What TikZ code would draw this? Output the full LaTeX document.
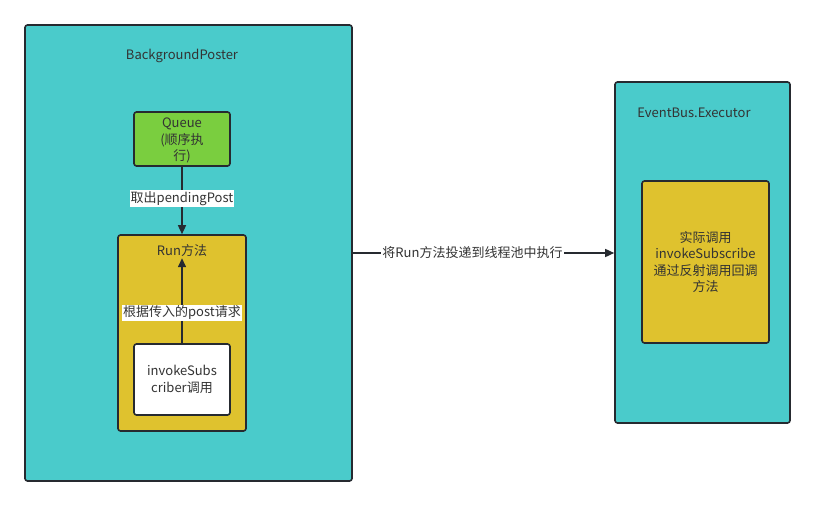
\documentclass[tikz,border=0pt]{standalone}
\usepackage{fontspec}
\setmainfont{Noto Sans CJK SC}
\usetikzlibrary{arrows.meta}

\definecolor{teal}{HTML}{4ACBCB}
\definecolor{leaf}{HTML}{7ACE3F}
\definecolor{mustard}{HTML}{DFC22E}
\definecolor{ink}{HTML}{262A30}
\definecolor{txt}{HTML}{333333}

\tikzset{
  box/.style={draw=ink, line width=1.6pt, rounded corners=2.5pt, inner sep=0pt},
  lbl/.style={text=txt, font=\fontsize{13}{16.5}\selectfont, align=center, inner sep=1pt},
  wire/.style={draw=ink, line width=1.5pt, -{Triangle[length=9pt,width=8pt]}},
}

\begin{document}
\begin{tikzpicture}[x=1pt,y=-1pt]
    \useasboundingbox (0,0) rectangle (815,506);
    % containers
    \node[box, fill=teal, minimum width=327, minimum height=456] (poster) at (188.5,253) {};
    \node[box, fill=teal, minimum width=175, minimum height=341] (executor) at (702.5,252.5) {};
    \node[lbl] (posterlbl) at (182,56) {BackgroundPoster};
    \node[lbl] (executorlbl) at (694,113) {EventBus.Executor};
    %
    \node[box, fill=leaf, minimum width=96, minimum height=54] (queue) at (182,139) {};
    \node[lbl] at (182,140.5) {Queue\\(顺序执\\行)};
    \node[box, fill=mustard, minimum width=128, minimum height=196] (run) at (182,333) {};
    \node[lbl] (runlbl) at (182,251) {Run方法};
    \node[box, fill=white, minimum width=96, minimum height=71] (invoke) at (182,379.5) {};
    \node[lbl] at (invoke) {invokeSubs\\criber调用};
    \node[box, fill=mustard, minimum width=127, minimum height=162] (reflect) at (705.5,262) {};
    \node[lbl] at (reflect) {实际调用\\invokeSubscribe\\通过反射调用回调\\方法};
    %
    \draw[wire] (queue.south) -- node[lbl, fill=white, pos=0.47] {取出pendingPost} (run.north);
    \draw[wire] (invoke.north) -- node[lbl, fill=white, pos=0.36] {根据传入的post请求} (runlbl.south);
    \draw[wire] (poster.east |- 0,253) -- node[lbl, fill=white, pos=0.458] {将Run方法投递到线程池中执行} (executor.west |- 0,253);
\end{tikzpicture}
\end{document}
